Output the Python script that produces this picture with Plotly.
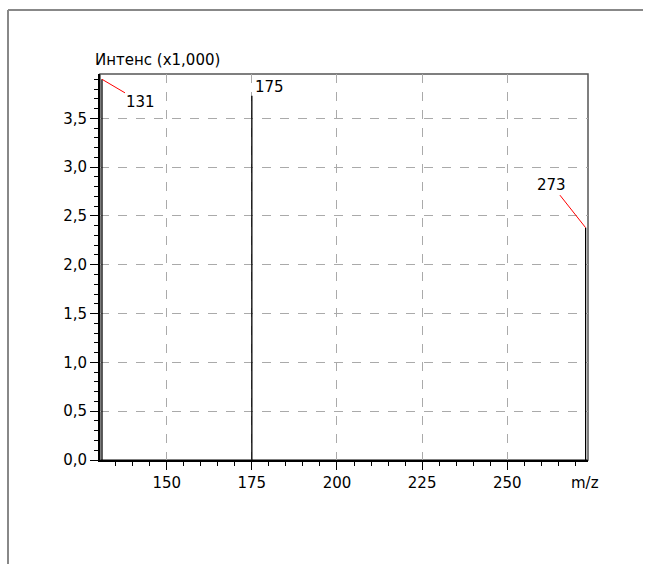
import plotly.graph_objects as go

# ---- data ----
mz = [131, 175, 273]
intensity = [3.90, 3.73, 2.38]          # x1,000
peak_labels = ["131", "175", "273"]
x_ticks = [150, 175, 200, 225, 250]
y_ticks = [0.0, 0.5, 1.0, 1.5, 2.0, 2.5, 3.0, 3.5]

FONT = "DejaVu Sans"
FS = 15

# plot-area geometry (pixels)
L, R, T, B = 100, 588, 74, 460
W, H = 652, 564
def px_x(p):
    return (p - L) / (R - L)
def px_y(p):
    return (B - p) / (B - T)

xs, ys = [], []
for m, v in zip(mz, intensity):
    xs += [m, m, None]
    ys += [0, v, None]

fig = go.Figure()
fig.add_trace(go.Scatter(x=xs, y=ys, mode="lines",
                         line=dict(color="black", width=1.3),
                         hoverinfo="skip", showlegend=False))

annotations = [
    dict(x=mz[0], y=intensity[0], text=peak_labels[0], showarrow=True,
         arrowhead=0, arrowcolor="red", arrowwidth=1, ax=39, ay=23,
         font=dict(family=FONT, size=FS, color="black")),
    dict(x=mz[1], y=intensity[1], text=peak_labels[1], showarrow=False,
         xanchor="left", yanchor="bottom", xshift=1, yshift=-2,
         font=dict(family=FONT, size=FS, color="black")),
    dict(x=mz[2], y=intensity[2], text=peak_labels[2], showarrow=True,
         arrowhead=0, arrowcolor="red", arrowwidth=1, ax=-34, ay=-43,
         font=dict(family=FONT, size=FS, color="black")),
    dict(xref="paper", yref="paper", x=px_x(93), y=px_y(60),
         text="Интенс (x1,000)", showarrow=False, xanchor="left",
         yanchor="middle", font=dict(family=FONT, size=FS, color="black")),
    dict(xref="paper", yref="paper", x=px_x(585), y=px_y(483),
         text="m/z", showarrow=False, xanchor="center",
         yanchor="middle", font=dict(family=FONT, size=FS, color="black")),
]

shapes = [
    # plot frame (gray top/right)
    dict(type="rect", xref="paper", yref="paper", x0=0, x1=1, y0=0, y1=1,
         line=dict(color="#555555", width=1.5), layer="below"),
    # outer border
    dict(type="line", xref="paper", yref="paper", x0=px_x(8), x1=px_x(8),
         y0=px_y(10), y1=px_y(564), line=dict(color="#888888", width=2)),
    dict(type="line", xref="paper", yref="paper", x0=px_x(8), x1=px_x(643),
         y0=px_y(10), y1=px_y(10), line=dict(color="#888888", width=2)),
]

fig.update_layout(
    width=W, height=H,
    margin=dict(l=L, r=W - R, t=T, b=H - B, pad=0),
    paper_bgcolor="white", plot_bgcolor="white",
    separators=", ",
    font=dict(family=FONT, size=FS, color="black"),
    annotations=annotations, shapes=shapes,
    showlegend=False,
)
fig.update_xaxes(
    range=[130.42, 273.7], tickvals=x_ticks, ticktext=[str(t) for t in x_ticks],
    ticks="outside", ticklen=8, tickwidth=1, tickcolor="black",
    showline=True, linecolor="black", linewidth=2,
    showgrid=True, gridcolor="#aaaaaa", griddash="dash", gridwidth=1,
    zeroline=False,
    minor=dict(dtick=5, tick0=0, ticks="outside", ticklen=4,
               tickcolor="black", showgrid=False),
    tickfont=dict(family=FONT, size=FS),
)
fig.update_yaxes(
    range=[0, 3.954], tickvals=y_ticks, tickformat=".1f",
    ticks="outside", ticklen=8, tickwidth=1, tickcolor="black",
    showline=True, linecolor="black", linewidth=2,
    showgrid=True, gridcolor="#aaaaaa", griddash="dash", gridwidth=1,
    zeroline=False,
    minor=dict(dtick=0.1, tick0=0, ticks="outside", ticklen=4,
               tickcolor="black", showgrid=False),
    tickfont=dict(family=FONT, size=FS),
)

fig.write_html("out.html")
